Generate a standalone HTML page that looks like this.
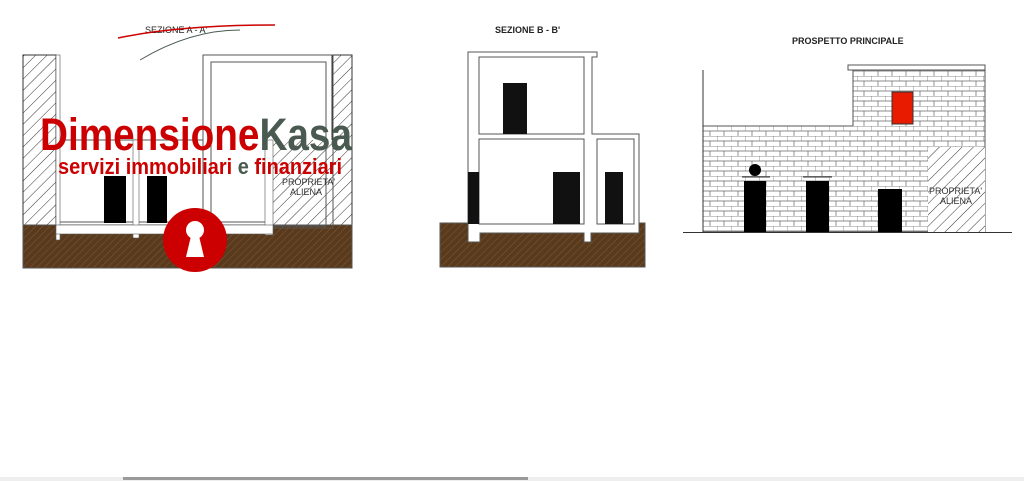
<!DOCTYPE html>
<html><head><style>
html,body{margin:0;padding:0;background:#fff;width:1024px;height:481px;overflow:hidden}
svg{display:block}
</style></head><body>
<svg width="1024" height="481" viewBox="0 0 1024 481" xmlns="http://www.w3.org/2000/svg" font-family="Liberation Sans, sans-serif">
<defs>
<pattern id="h" width="8" height="8" patternUnits="userSpaceOnUse" patternTransform="rotate(45)"><rect width="8" height="8" fill="#fff"/><line x1="0" y1="0" x2="0" y2="8" stroke="#333" stroke-width="1"/></pattern>
<pattern id="g" width="5" height="5" patternUnits="userSpaceOnUse" patternTransform="rotate(45)"><rect width="5" height="5" fill="#5a3a1c"/><line x1="0" y1="0" x2="0" y2="5" stroke="#7a5a3a" stroke-width="1"/></pattern>
<pattern id="b" width="14" height="10" patternUnits="userSpaceOnUse" x="703" y="126"><rect width="14" height="10" fill="#fff"/><path d="M0 0H14M0 5H14M0 0V5M7 5V10" stroke="#666" stroke-width="0.7" fill="none"/></pattern>
</defs>
<!-- Section A -->
<text x="145" y="33" font-size="9" fill="#222">SEZIONE A - A'</text>
<path d="M118 38 Q180 25 275 25" stroke="#c00" fill="none" stroke-width="1.5"/>
<path d="M140 60 Q190 30 240 30" stroke="#4a5a50" fill="none" stroke-width="1"/>
<rect x="23" y="55" width="33" height="170" fill="url(#h)" stroke="#333"/>
<rect x="332" y="55" width="20" height="170" fill="url(#h)" stroke="#333"/>
<rect x="273" y="140" width="60" height="85" fill="url(#h)"/>
<rect x="23" y="225" width="329" height="43" fill="url(#g)" stroke="#555"/>
<rect x="56" y="55" width="4" height="185" fill="#fff" stroke="#555" stroke-width="0.6"/>
<path d="M60 140H203M60 222H273" stroke="#555" fill="none"/>
<rect x="203" y="55" width="130" height="173" fill="none" stroke="#555"/>
<rect x="211" y="62" width="115" height="164" fill="none" stroke="#555"/>
<rect x="133" y="140" width="6" height="98" fill="#fff" stroke="#555" stroke-width="0.6"/>
<rect x="265" y="140" width="8" height="95" fill="#fff" stroke="#555" stroke-width="0.6"/>
<rect x="56" y="225" width="217" height="9" fill="#fff" stroke="#555" stroke-width="0.6"/>
<rect x="104" y="176" width="22" height="47" fill="#000"/>
<rect x="147" y="176" width="20" height="47" fill="#000"/>
<text x="40" y="150" font-size="45" font-weight="bold" fill="#c00" textLength="312" lengthAdjust="spacingAndGlyphs">Dimensione<tspan fill="#4a5a50">Kasa</tspan></text>
<text x="58" y="174" font-size="22" font-weight="bold" fill="#c00" textLength="284" lengthAdjust="spacingAndGlyphs">servizi immobiliari <tspan fill="#4a5a50">e</tspan> finanziari</text>
<text x="282" y="185" font-size="9" fill="#333">PROPRIETA'</text>
<text x="290" y="195" font-size="9" fill="#333">ALIENA</text>
<circle cx="195" cy="240" r="32" fill="#c00"/>
<circle cx="195" cy="230" r="9" fill="#fff"/>
<path d="M191 236L186 257H204L199 236Z" fill="#fff"/>
<!-- Section B -->
<text x="495" y="33" font-size="9" font-weight="bold" fill="#222">SEZIONE B - B'</text>
<rect x="440" y="223" width="205" height="44" fill="url(#g)" stroke="#555"/>
<path d="M468 52H597V57H592V134H639V233H591V242H584V233H480V242H468Z" fill="#fff" stroke="#555"/>
<rect x="479" y="57" width="105" height="77" fill="none" stroke="#555"/>
<rect x="479" y="139" width="105" height="85" fill="none" stroke="#555"/>
<rect x="597" y="139" width="37" height="85" fill="none" stroke="#555"/>
<rect x="503" y="83" width="24" height="51" fill="#111"/>
<rect x="553" y="172" width="27" height="52" fill="#111"/>
<rect x="605" y="172" width="18" height="52" fill="#111"/>
<rect x="468" y="172" width="11" height="52" fill="#111"/>
<!-- Prospetto -->
<text x="792" y="44" font-size="9" font-weight="bold" fill="#222">PROSPETTO PRINCIPALE</text>
<rect x="703" y="126" width="282" height="106" fill="url(#b)" stroke="#555"/>
<rect x="853" y="70" width="132" height="57" fill="url(#b)"/>
<path d="M853 70V126M985 70V232" stroke="#555"/>
<rect x="848" y="65" width="137" height="5" fill="#fff" stroke="#555"/>
<line x1="703" y1="70" x2="703" y2="232" stroke="#333"/>
<line x1="683" y1="232.5" x2="1012" y2="232.5" stroke="#333"/>
<rect x="892" y="92" width="21" height="32" fill="#e81a00" stroke="#333"/>
<rect x="928" y="147" width="57" height="85" fill="url(#h)"/>
<text x="929" y="194" font-size="9" fill="#333">PROPRIETA'</text>
<text x="940" y="204" font-size="9" fill="#333">ALIENA</text>
<circle cx="755" cy="170" r="6" fill="#000"/>
<line x1="742" y1="177" x2="770" y2="177" stroke="#333"/>
<line x1="803" y1="177" x2="832" y2="177" stroke="#333"/>
<rect x="744" y="181" width="22" height="51" fill="#000"/>
<rect x="806" y="181" width="23" height="51" fill="#000"/>
<rect x="878" y="189" width="24" height="43" fill="#000"/>
<!-- scrollbar -->
<rect x="0" y="477" width="1024" height="4" fill="#eee"/>
<rect x="123" y="477" width="405" height="3" fill="#9a9a9a"/>
</svg>
</body></html>
